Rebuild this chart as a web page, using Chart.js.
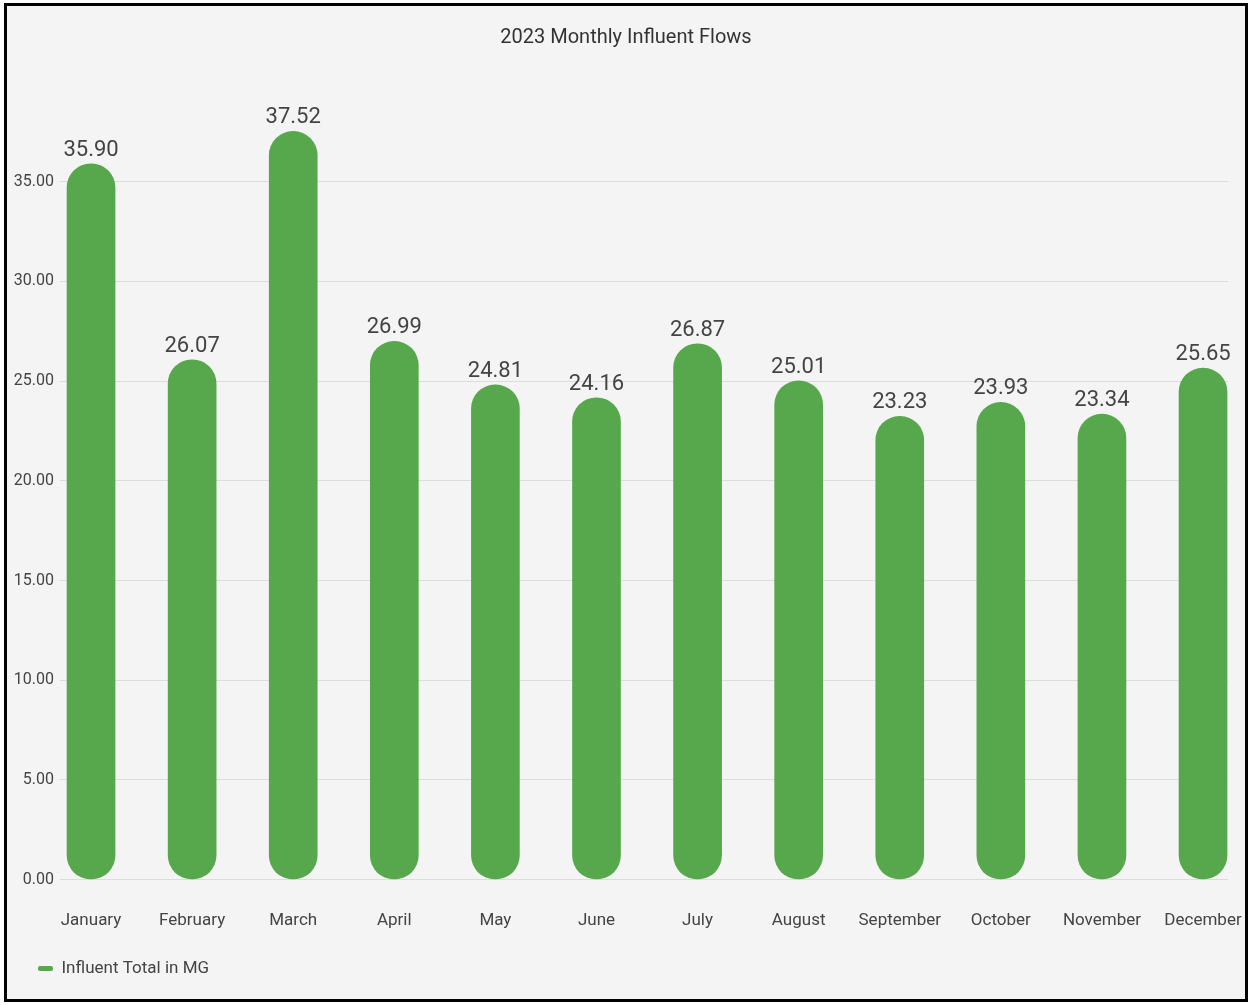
<!DOCTYPE html>
<html>
<head>
<meta charset="utf-8">
<script src="https://cdn.jsdelivr.net/npm/chart.js@4"></script>
<style>
    html, body { margin: 0; padding: 0; background: #fff; }
    #frame {
        position: absolute; left: 4px; top: 3px;
        width: 1244px; height: 999px;
        box-sizing: border-box;
        border: 3px solid #000;
        background: #f4f4f4;
    }
    #chart { display: block; }
</style>
</head>
<body>
<div id="frame"><canvas id="chart" width="1238" height="993"></canvas></div>
<script>
const months = ["January", "February", "March", "April", "May", "June",
    "July", "August", "September", "October", "November", "December"];
const influent = [35.90, 26.07, 37.52, 26.99, 24.81, 24.16, 26.87, 25.01, 23.23, 23.93, 23.34, 25.65];
const yTicks = [0, 5, 10, 15, 20, 25, 30, 35];

const barColor = "#57a84c";
const textColor = "#444";

// value labels above each bar
const valueLabels = {
    id: "valueLabels",
    afterDatasetsDraw(chart) {
        const ctx = chart.ctx;
        const meta = chart.getDatasetMeta(0);
        ctx.save();
        ctx.font = "22px Roboto";
        ctx.fillStyle = textColor;
        ctx.textAlign = "center";
        ctx.textBaseline = "alphabetic";
        meta.data.forEach((bar, i) => {
            ctx.fillText(influent[i].toFixed(2), bar.x, bar.y - 8);
        });
        ctx.restore();
    }
};

// nudge the legend to sit like the original
const legendShift = {
    id: "legendShift",
    afterLayout(chart) {
        chart.legend.left += 21;
        chart.legend.top -= 12;
    }
};

const ctx = document.getElementById("chart").getContext("2d");
new Chart(ctx, {
    type: "bar",
    data: {
        datasets: [{
            label: "Influent Total in MG",
            data: influent.map((v, i) => ({ x: i, y: v })),
            backgroundColor: barColor,
            borderWidth: 0,
            borderRadius: 24,
            borderSkipped: false,
            barThickness: 48,
        }],
    },
    options: {
        responsive: false,
        animation: false,
        layout: { padding: { left: 0, right: 0, top: 0, bottom: 0 } },
        plugins: {
            title: {
                display: true,
                text: "2023 Monthly Influent Flows",
                color: "#333",
                font: { family: "Roboto", size: 20, weight: "normal" },
                padding: { top: 20, bottom: 32 },
            },
            legend: {
                position: "bottom",
                align: "start",
                labels: {
                    color: textColor,
                    font: { family: "Roboto", size: 17 },
                    boxWidth: 15,
                    boxHeight: 5,
                    useBorderRadius: true,
                    borderRadius: 2,
                    padding: 10,
                },
            },
            tooltip: { enabled: false },
        },
        scales: {
            x: {
                type: "linear",
                offset: false,
                min: -0.307,
                max: 11.247,
                grid: { display: false, drawTicks: false },
                border: { display: false },
                afterBuildTicks: (scale) => {
                    scale.ticks = months.map((_, i) => ({ value: i }));
                },
                afterFit: (scale) => {
                    scale.paddingLeft = 0;
                    scale.paddingRight = 17;
                },
                ticks: {
                    color: textColor,
                    font: { family: "Roboto", size: 17 },
                    padding: 31,
                    maxRotation: 0,
                    autoSkip: false,
                    callback: (v) => months[v],
                },
            },
            y: {
                min: 0,
                max: 40,
                afterBuildTicks: (scale) => {
                    scale.ticks = yTicks.map((v) => ({ value: v }));
                },
                afterFit: (scale) => {
                    scale.width = 53;
                    scale.paddingTop = 0;
                    scale.paddingBottom = 0;
                },
                grid: { color: "#dcdcdc", drawTicks: false },
                border: { display: false },
                ticks: {
                    color: textColor,
                    font: { family: "Roboto", size: 16 },
                    padding: 6,
                    callback: (v) => v.toFixed(2),
                },
            },
        },
    },
    plugins: [valueLabels, legendShift],
});
</script>
</body>
</html>
